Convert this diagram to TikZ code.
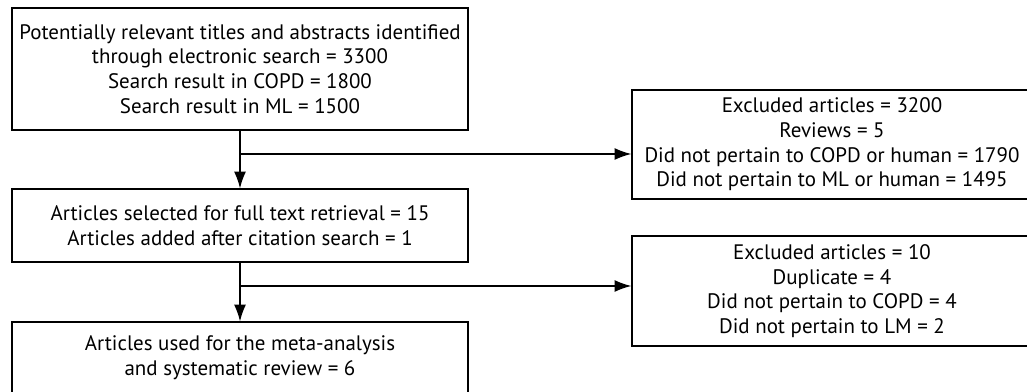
\documentclass[tikz,border=0pt]{standalone}
\usepackage{fontspec}
\setmainfont{PT Sans}
\usetikzlibrary{arrows.meta}

\tikzset{
	flowbox/.style={draw,line width=0.9pt,align=center,inner sep=0pt,
		font=\fontsize{14.9}{17.5}\selectfont},
	flowarrow/.style={line width=0.9pt,-{Latex[length=4.2mm,width=3mm]}}
}

\begin{document}
\begin{tikzpicture}[x=0.025cm,y=-0.025cm]
	\useasboundingbox (0,0) rectangle (1027,392);

	\node[flowbox,minimum width=11.4cm,minimum height=3.05cm] (search) at (240,69)
		{Potentially relevant titles and abstracts identified\\through electronic search = 3300\\Search result in COPD = 1800\\Search result in ML = 1500};
	\node[flowbox,minimum width=11.4cm,minimum height=1.825cm] (fulltext) at (240,225.5)
		{Articles selected for full text retrieval = 15\\Articles added after citation search = 1};
	\node[flowbox,minimum width=11.4cm,minimum height=1.8cm] (used) at (240,358)
		{Articles used for the meta-analysis\\and systematic review = 6};
	\node[flowbox,minimum width=10cm,minimum height=2.725cm] (excl1) at (832,144.5)
		{Excluded articles = 3200\\Reviews = 5\\Did not pertain to COPD or human = 1790\\Did not pertain to ML or human = 1495};
	\node[flowbox,minimum width=10cm,minimum height=2.75cm] (excl2) at (832,291)
		{Excluded articles = 10\\Duplicate = 4\\Did not pertain to COPD = 4\\Did not pertain to LM = 2};

	\coordinate (split1) at (240,154);
	\coordinate (split2) at (240,286);

	\draw[flowarrow] (search.south) -- (fulltext.north);
	\draw[flowarrow] (fulltext.south) -- (used.north);
	\draw[flowarrow] (split1) -- (split1 -| excl1.west);
	\draw[flowarrow] (split2) -- (split2 -| excl2.west);
\end{tikzpicture}
\end{document}
